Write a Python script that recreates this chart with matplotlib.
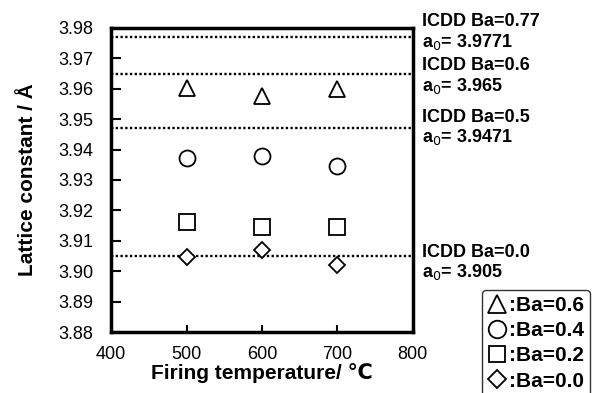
import matplotlib.pyplot as plt

plt.rcParams['font.family'] = ['Liberation Sans', 'DejaVu Sans']

temps = [500, 600, 700]
ba06 = [3.9603, 3.9577, 3.9600]
ba04 = [3.9372, 3.9379, 3.9346]
ba02 = [3.9163, 3.9147, 3.9145]
ba00 = [3.9048, 3.9071, 3.9022]

icdd_ba = ['0.77', '0.6', '0.5', '0.0']
icdd_a0 = [3.9771, 3.965, 3.9471, 3.905]
icdd_a0_txt = ['3.9771', '3.965', '3.9471', '3.905']
# small vertical nudge of the side labels (points)
lab_shift = [3, -2, 0, -5]

fig = plt.figure(figsize=(6.07, 3.93), dpi=100)
ax = fig.add_axes([0.183, 0.155, 0.497, 0.774])

for a in icdd_a0:
    ax.axhline(a, color='black', ls=(0, (1, 1)), lw=1.7)

mk = dict(ls='none', mfc='white', mec='black', mew=1.3)
h1, = ax.plot(temps, ba06, marker='^', ms=12, **mk)
h2, = ax.plot(temps, ba04, marker='o', ms=11.5, **mk)
h3, = ax.plot(temps, ba02, marker='s', ms=11, **mk)
h4, = ax.plot(temps, ba00, marker='D', ms=8, **mk)

ax.set_xlim(400, 800)
ax.set_ylim(3.88, 3.98)
ax.set_xticks([400, 500, 600, 700, 800])
ax.set_yticks([3.88 + 0.01 * i for i in range(11)])
ax.set_yticklabels(['%.2f' % (3.88 + 0.01 * i) for i in range(11)])
ax.tick_params(axis='y', direction='in', length=7, width=1.5, labelsize=13, pad=13)
ax.tick_params(axis='x', direction='in', length=5, width=1.5, labelsize=13, pad=10)
for s in ax.spines.values():
    s.set_linewidth(2.5)

ax.set_xlabel('Firing temperature/ \u2103', fontsize=15, fontweight='bold', labelpad=0)
ax.set_ylabel('Lattice constant / \u00c5', fontsize=15, fontweight='bold', labelpad=15)

for ba, a, t, dy in zip(icdd_ba, icdd_a0, icdd_a0_txt, lab_shift):
    ax.annotate('ICDD Ba=%s\na$_0$= %s' % (ba, t), xy=(1.0, a),
                xycoords=ax.get_yaxis_transform(), xytext=(7, dy),
                textcoords='offset points', fontsize=13, fontweight='bold',
                va='center', ha='left', linespacing=1.1, annotation_clip=False)

leg = fig.legend([h1, h2, h3, h4], [':Ba=0.6', ':Ba=0.4', ':Ba=0.2', ':Ba=0.0'],
                 loc='upper left', bbox_to_anchor=(0.794, 0.263), frameon=True,
                 prop={'size': 15, 'weight': 'bold'}, handlelength=0.8,
                 handletextpad=0.2, labelspacing=0.3, borderpad=0.3,
                 borderaxespad=0, markerscale=1.1)
leg.get_frame().set_edgecolor('black')
leg.get_frame().set_linewidth(1.0)

fig.savefig('out.png', dpi=100)
